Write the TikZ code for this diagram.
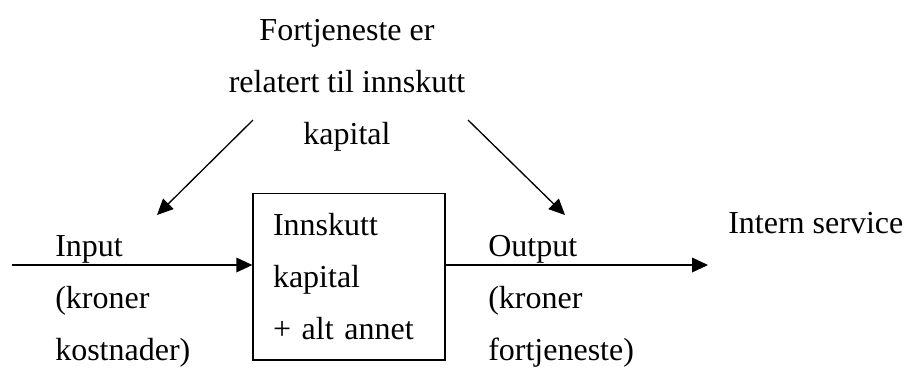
\documentclass[tikz,border=0pt]{standalone}
\usepackage{fontspec}
\setmainfont{Liberation Serif}
\usetikzlibrary{arrows.meta, calc}

\begin{document}
\begin{tikzpicture}[x=0.75pt, y=-0.75pt,
  pil/.style={-{Triangle[length=12pt,width=11pt]}, line width=1pt},
  txt/.style={font=\fontsize{24}{39}\selectfont, inner sep=0pt, align=left}]
  \useasboundingbox (0,0) rectangle (906,369);
  \def\ylinje{265} % horizontal flow line

  \node (topp) [txt, align=center] at (347,85) {Fortjeneste er\\relatert til innskutt\\kapital};
  \node (kap) [draw, line width=1pt, txt, minimum width=144pt, minimum height=125pt,
    text width=114pt, inner xsep=15pt] at (349,276.5) {Innskutt\\kapital\\+ alt annet};
  \node (inn) [txt, anchor=west] at (55,301) {Input\\(kroner\\kostnader)};
  \node (ut) [txt, anchor=west] at (488,301) {Output\\(kroner\\fortjeneste)};
  \node (intern) [txt, anchor=west] at (728,223) {Intern service};

  \coordinate (start) at (12,\ylinje);
  \coordinate (slutt) at (708,\ylinje);
  \coordinate (vstart) at (253,120);
  \coordinate (vslutt) at (157,215);
  \coordinate (hstart) at (468,120);
  \coordinate (hslutt) at (565,215);

  \draw [pil] (start) -- (start -| kap.west);
  \draw [pil] (start -| kap.east) -- (slutt);
  \draw [pil] (vstart) -- (vslutt);
  \draw [pil] (hstart) -- (hslutt);
\end{tikzpicture}
\end{document}
